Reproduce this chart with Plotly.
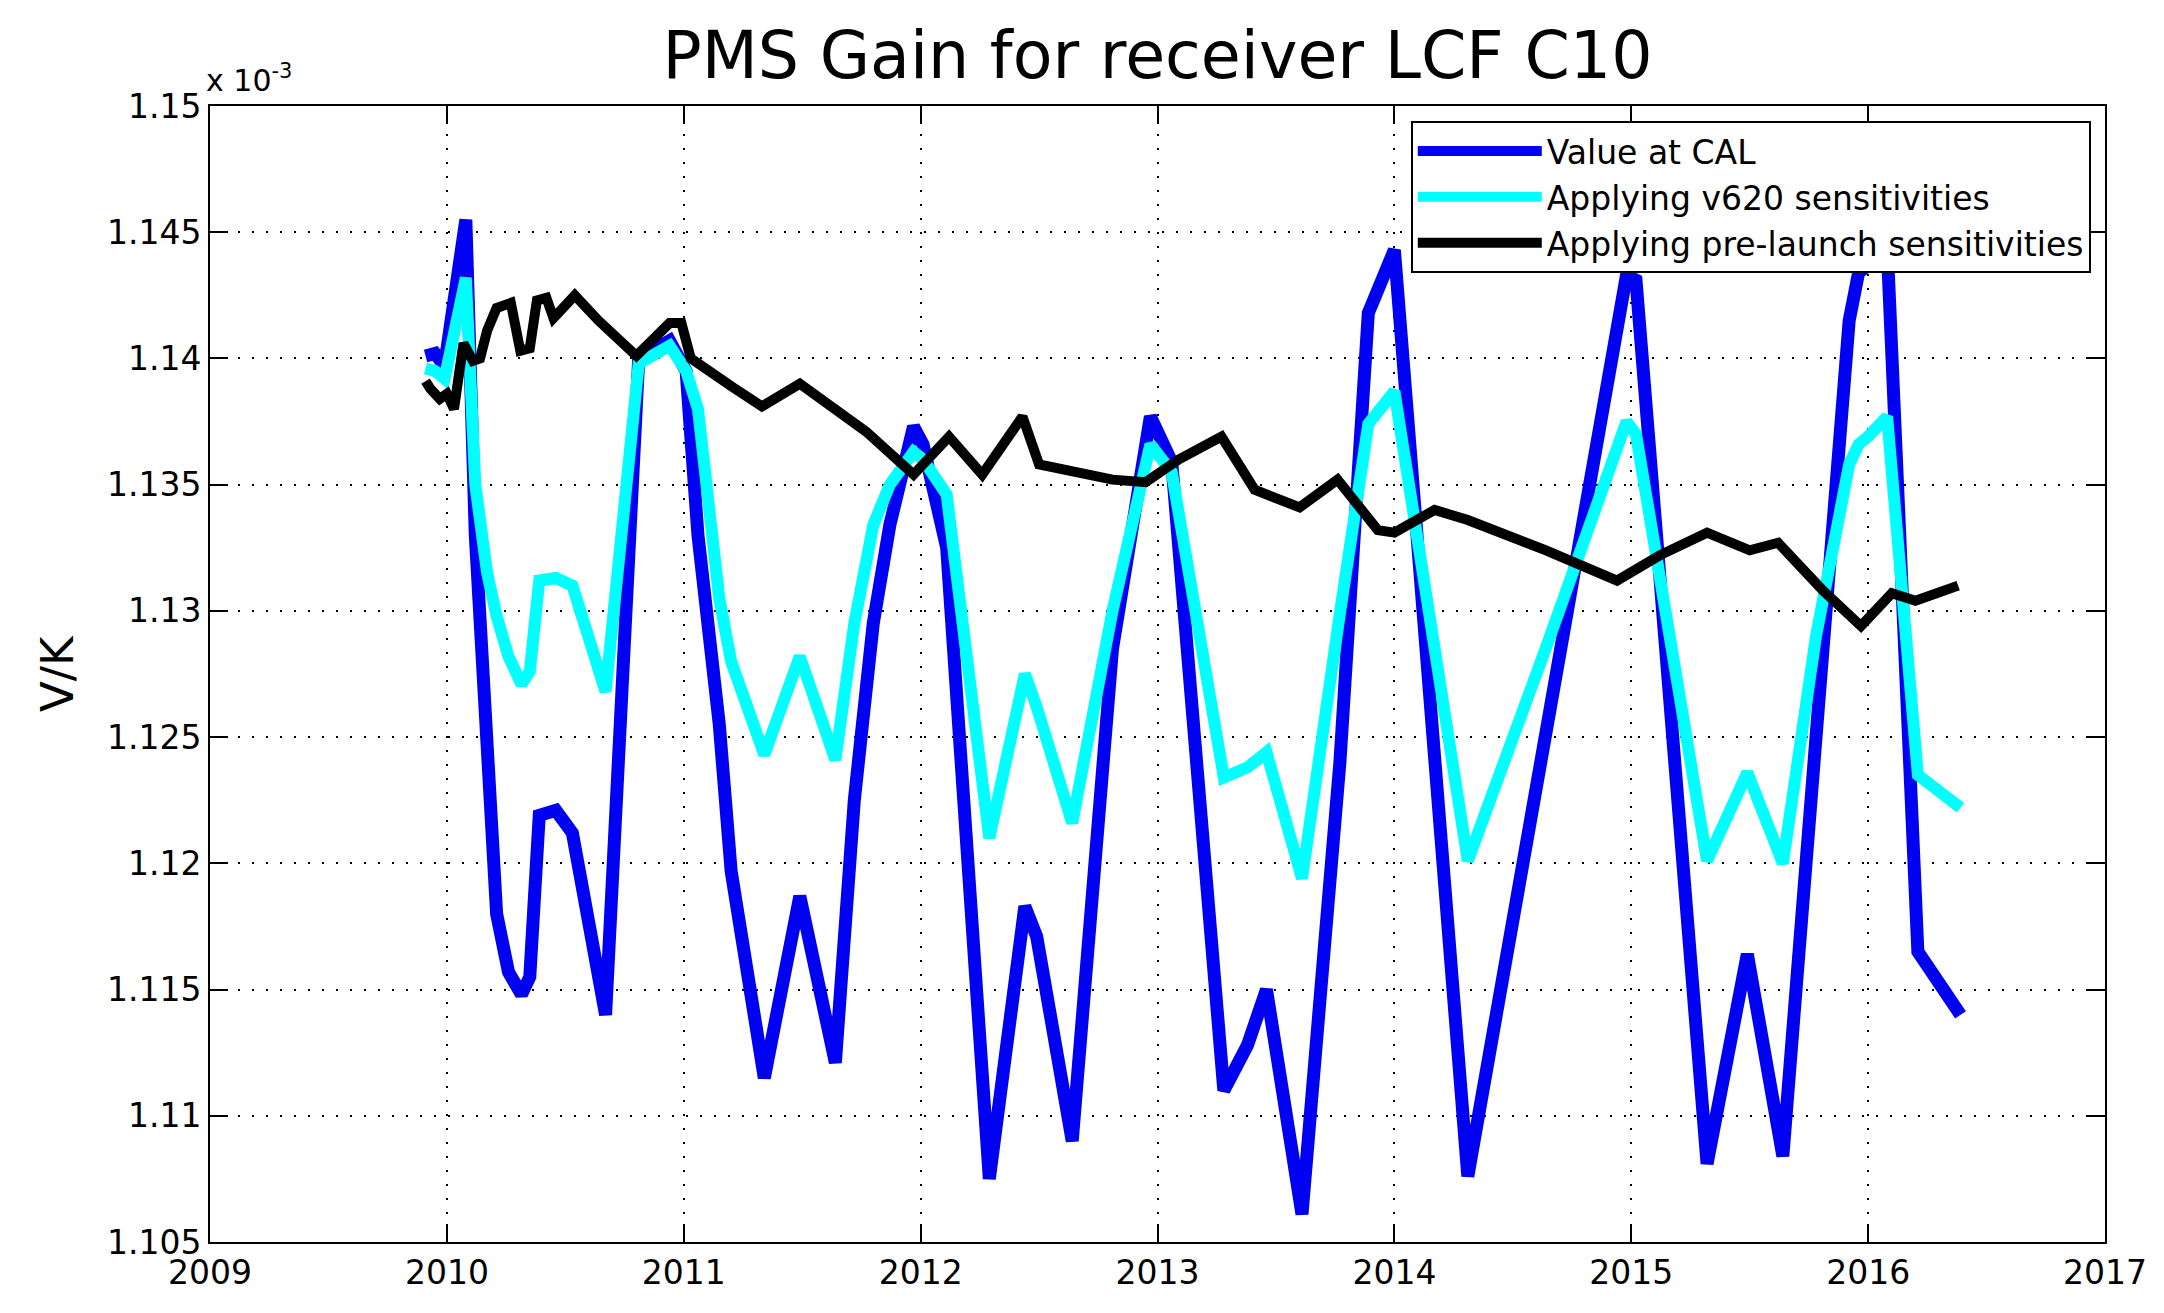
import plotly.graph_objects as go

# ---- data (values in units of 1e-3 V/K) ----
dates_cal = [2009.91, 2009.95, 2009.99, 2010.08, 2010.12, 2010.17, 2010.21, 2010.26, 2010.315,
             2010.35, 2010.39, 2010.46, 2010.53, 2010.67, 2010.81, 2010.94, 2011.01, 2011.06,
             2011.15, 2011.2, 2011.34, 2011.49, 2011.64, 2011.72, 2011.8, 2011.87, 2011.97,
             2012.01, 2012.11, 2012.29, 2012.44, 2012.49, 2012.64, 2012.81, 2012.97, 2013.06,
             2013.28, 2013.38, 2013.46, 2013.61, 2013.77, 2013.89, 2014.0, 2014.31, 2014.65,
             2014.98, 2015.02, 2015.32, 2015.49, 2015.64, 2015.78, 2015.92, 2015.96, 2016.0,
             2016.08, 2016.21, 2016.39]
value_at_cal = [1.1401, 1.1402, 1.1397, 1.1455, 1.1330, 1.1240, 1.1180, 1.1157, 1.1148,
                1.1155, 1.1219, 1.1221, 1.1212, 1.1140, 1.1400, 1.1407, 1.1395, 1.1330,
                1.1255, 1.1197, 1.1115, 1.1187, 1.1121, 1.1225, 1.1295, 1.1334, 1.1373,
                1.1366, 1.1325, 1.1075, 1.1183, 1.1171, 1.1090, 1.1285, 1.1377, 1.1359,
                1.1110, 1.1128, 1.1150, 1.1061, 1.1240, 1.1418, 1.1443, 1.1076, 1.1255,
                1.1433, 1.1431, 1.1081, 1.1164, 1.1084, 1.1250, 1.1415, 1.1434, 1.1437,
                1.1445, 1.1165, 1.1140]
v620 = [1.1396, 1.1395, 1.1392, 1.1432, 1.1350, 1.1315, 1.1298, 1.1282, 1.1271,
        1.1276, 1.1312, 1.1313, 1.1310, 1.1268, 1.1398, 1.1405, 1.1395, 1.1380,
        1.1305, 1.1280, 1.1243, 1.1282, 1.1241, 1.1295, 1.1334, 1.1350, 1.1363,
        1.1360, 1.1346, 1.1210, 1.1275, 1.1262, 1.1216, 1.1300, 1.1366, 1.1355,
        1.1234, 1.1238, 1.1244, 1.1194, 1.1299, 1.1374, 1.1387, 1.1201, 1.1288,
        1.1375, 1.1370, 1.1201, 1.1236, 1.1200, 1.1290, 1.1358, 1.1366, 1.1369,
        1.1377, 1.1235, 1.1222]

dates_pre = [2009.91, 2009.93, 2009.97, 2010.0, 2010.03, 2010.07, 2010.11, 2010.14, 2010.17,
             2010.21, 2010.27, 2010.31, 2010.35, 2010.38, 2010.42, 2010.45, 2010.54, 2010.64,
             2010.80, 2010.94, 2010.99, 2011.03, 2011.2, 2011.33, 2011.49, 2011.64, 2011.77,
             2011.97, 2012.12, 2012.26, 2012.43, 2012.5, 2012.67, 2012.81, 2012.95, 2013.09,
             2013.27, 2013.41, 2013.6, 2013.76, 2013.93, 2014.0, 2014.17, 2014.31, 2014.64,
             2014.94, 2015.12, 2015.32, 2015.5, 2015.62, 2015.81, 2015.97, 2016.1, 2016.2,
             2016.38]
pre_launch = [1.1391, 1.1388, 1.1384, 1.1386, 1.1380, 1.1406, 1.1399, 1.1400, 1.1411,
              1.1420, 1.1422, 1.1403, 1.1404, 1.1423, 1.1424, 1.1416, 1.1425, 1.1415,
              1.1401, 1.1414, 1.1414, 1.1400, 1.1389, 1.1381, 1.1390, 1.1380, 1.1371,
              1.1354, 1.1369, 1.1354, 1.1377, 1.1358, 1.1355, 1.1352, 1.1351, 1.1360,
              1.1369, 1.1348, 1.1341, 1.1352, 1.1332, 1.1331, 1.1340, 1.1336, 1.1324,
              1.1312, 1.1322, 1.1331, 1.1324, 1.1327, 1.1308, 1.1294, 1.1307, 1.1304,
              1.1310]

x_ticks = [2009, 2010, 2011, 2012, 2013, 2014, 2015, 2016, 2017]
x_tick_labels = ["2009", "2010", "2011", "2012", "2013", "2014", "2015", "2016", "2017"]
y_ticks = [1.105, 1.11, 1.115, 1.12, 1.125, 1.13, 1.135, 1.14, 1.145, 1.15]
y_tick_labels = ["1.105", "1.11", "1.115", "1.12", "1.125", "1.13", "1.135", "1.14", "1.145", "1.15"]

series_names = ["Value at CAL", "Applying v620 sensitivities", "Applying pre-launch sensitivities"]

FONT = "DejaVu Sans, Liberation Sans, Arial, sans-serif"

fig = go.Figure()
fig.add_trace(go.Scatter(x=dates_cal, y=value_at_cal, mode="lines", name=series_names[0],
                         line=dict(color="#0000f2", width=13)))
fig.add_trace(go.Scatter(x=dates_cal, y=v620, mode="lines", name=series_names[1],
                         line=dict(color="#00ffff", width=12)))
fig.add_trace(go.Scatter(x=dates_pre, y=pre_launch, mode="lines", name=series_names[2],
                         line=dict(color="#000000", width=10)))

axis_common = dict(
    showline=True, linecolor="black", linewidth=2, mirror="ticks",
    ticks="inside", ticklen=18, tickwidth=2, tickcolor="black",
    showgrid=True, gridcolor="black", gridwidth=1.5, griddash="2px,12px",
    zeroline=False,
    tickfont=dict(family=FONT, size=33, color="black"),
)

fig.update_layout(
    width=2164, height=1313,
    paper_bgcolor="white", plot_bgcolor="white",
    margin=dict(l=202, r=67, t=98, b=79),
    title=dict(text="PMS Gain for receiver LCF C10", x=0.5, xref="paper", xanchor="center",
               y=1 - 47 / 1313, yanchor="middle",
               font=dict(family=FONT, size=65, color="black")),
    xaxis=dict(range=[2009, 2017], tickvals=x_ticks, ticktext=x_tick_labels, **axis_common),
    yaxis=dict(range=[1.105, 1.15], tickvals=y_ticks, ticktext=y_tick_labels, **axis_common),
    legend=dict(x=0.9925, xanchor="right", y=0.9868, yanchor="top",
                bgcolor="white", bordercolor="black", borderwidth=2,
                font=dict(family=FONT, size=33, color="black"),
                itemwidth=124, tracegroupgap=0),
    showlegend=True,
)

fig.add_annotation(text="V/K", xref="paper", yref="paper", x=(49 - 202) / 1895, y=0.5,
                   xanchor="center", yanchor="middle", textangle=-90, showarrow=False,
                   font=dict(family=FONT, size=45, color="black"))
fig.add_annotation(text="x 10<sup>-3</sup>", xref="paper", yref="paper", x=0, y=1,
                   xanchor="left", yanchor="bottom", xshift=-6, yshift=6, showarrow=False,
                   font=dict(family=FONT, size=30, color="black"))

fig.write_html("out.html")
